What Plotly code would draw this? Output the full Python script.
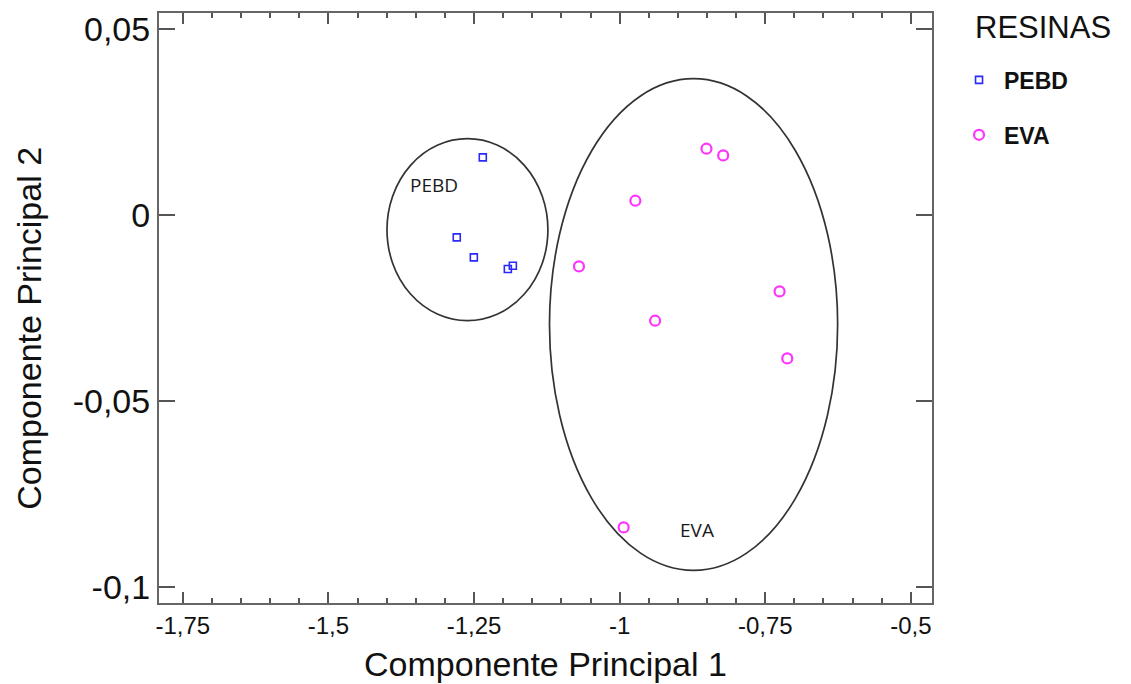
import plotly.graph_objects as go

# ---- data ----
pebd_x = [-1.2349, -1.2796, -1.2503, -1.1919, -1.1833]
pebd_y = [0.01548, -0.00602, -0.01140, -0.01452, -0.01363]

eva_x = [-0.8509, -0.8222, -0.9730, -1.0698, -0.7254, -0.9391, -0.7122, -0.9931]
eva_y = [0.01782, 0.01602, 0.00384, -0.01382, -0.02054, -0.02841, -0.03855, -0.08398]

# group ellipses (x0, x1, y0, y1) in data units
pebd_ellipse = [-1.3994, -1.1231, -0.02841, 0.02051]
eva_ellipse = [-1.1204, -0.6257, -0.09554, 0.03664]

# group labels
group_labels = ["PEBD", "EVA"]
group_label_x = [-1.318, -0.868]
group_label_y = [0.00801, -0.0848]

x_tickvals = [-1.75, -1.5, -1.25, -1.0, -0.75, -0.5]
x_ticktext = ["-1,75", "-1,5", "-1,25", "-1", "-0,75", "-0,5"]
y_tickvals = [0.05, 0.0, -0.05, -0.1]
y_ticktext = ["0,05", "0", "-0,05", "-0,1"]

x_range = [-1.7908, -0.4637]
y_range = [-0.1043, 0.0543]

fig = go.Figure()

fig.add_trace(go.Scatter(
    x=pebd_x, y=pebd_y, mode="markers", name="PEBD", legendgroup="a",
    marker=dict(symbol="square-open", size=7, color="#2a2aff", line=dict(width=1.6)),
))
fig.add_trace(go.Scatter(
    x=eva_x, y=eva_y, mode="markers", name="EVA", legendgroup="b",
    marker=dict(symbol="circle-open", size=10, color="#ff33ff", line=dict(width=2.2)),
))

for e in (pebd_ellipse, eva_ellipse):
    fig.add_shape(type="circle", xref="x", yref="y",
                  x0=e[0], x1=e[1], y0=e[2], y1=e[3],
                  line=dict(color="#333333", width=1.7), layer="below")

for t, x, y in zip(group_labels, group_label_x, group_label_y):
    fig.add_annotation(x=x, y=y, xref="x", yref="y", text=t, showarrow=False,
                       font=dict(family="Open Sans", size=19, color="#1a1a1a"))

# legend title as annotation
fig.add_annotation(x=1.054, y=1.007, xref="paper", yref="paper", text="RESINAS",
                   showarrow=False, xanchor="left", yanchor="top", borderpad=0,
                   font=dict(size=31, family="Liberation Sans, Arial", color="#111111"))

# y-axis title as annotation (for exact placement)
fig.add_annotation(x=-0.168, y=0.465, xref="paper", yref="paper",
                   text="Componente Principal 2", textangle=-90, showarrow=False,
                   xanchor="center", yanchor="middle",
                   font=dict(size=34, family="Liberation Sans, Arial", color="#111111"))

axis_common = dict(
    showgrid=False, zeroline=False, showline=True, linecolor="#666666", linewidth=2,
    mirror="ticks", ticks="inside", tickcolor="#555555", tickwidth=2, automargin=False,
)

fig.update_layout(
    width=1131, height=684,
    paper_bgcolor="white", plot_bgcolor="white",
    margin=dict(l=151, r=207, t=5, b=89, autoexpand=False),
    font=dict(family="Liberation Sans, Arial", color="#111111"),
    xaxis=dict(
        range=x_range, tickvals=x_tickvals, ticktext=x_ticktext,
        ticklen=11, tickfont=dict(size=24),
        minor=dict(dtick=0.05, tick0=-1.75, ticks="inside", ticklen=5,
                   tickcolor="#555555", tickwidth=1.5),
        title=dict(text="Componente Principal 1", font=dict(size=34), standoff=14),
        **axis_common,
    ),
    yaxis=dict(
        range=y_range, tickvals=y_tickvals, ticktext=y_ticktext,
        ticklen=16, tickfont=dict(size=34),
        **axis_common,
    ),
    legend=dict(
        x=1.0285, y=0.923, xanchor="left", yanchor="top",
        font=dict(size=23, family="Liberation Sans, Arial", color="#111111", weight="bold"),
        tracegroupgap=22, itemwidth=40, bgcolor="rgba(0,0,0,0)",
    ),
    separators=", ",
)

fig.write_html("out.html")
